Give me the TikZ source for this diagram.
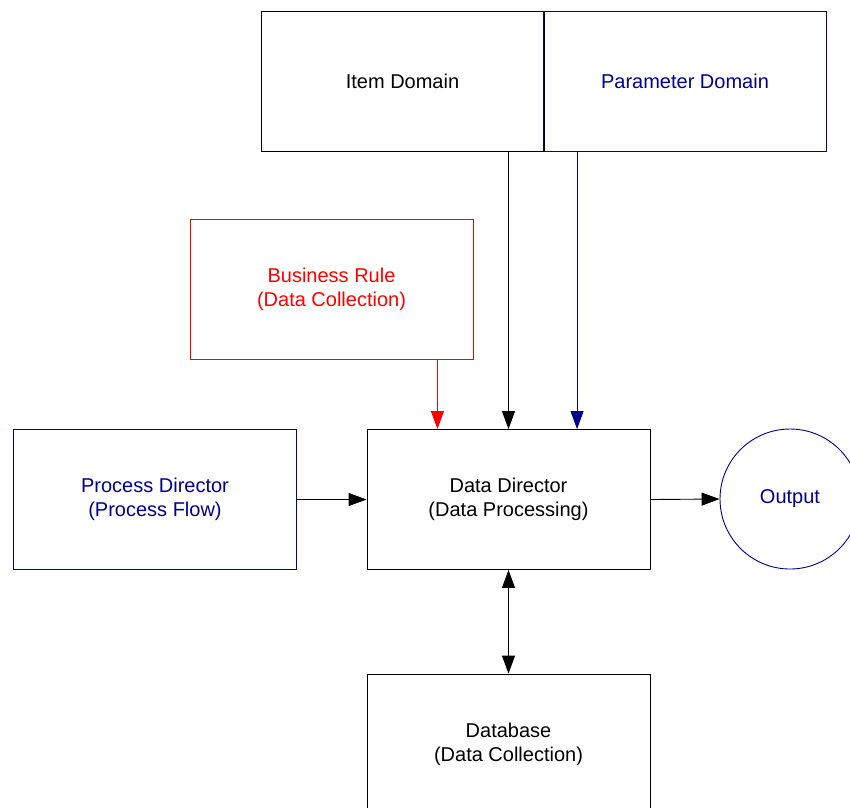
\documentclass[tikz,border=0pt]{standalone}
\usepackage{fontspec}
\setmainfont{Liberation Sans}
\usetikzlibrary{arrows.meta,calc}
\definecolor{navy}{RGB}{0,0,140}
\begin{document}
\begin{tikzpicture}[x=1pt,y=-1pt,
  box/.style={draw,line width=0.9pt,minimum width=283pt,minimum height=140pt,
    inner sep=0pt,align=center,font=\fontsize{20pt}{24pt}\selectfont},
  arr/.style={line width=0.9pt,-{Triangle[length=18pt,width=13pt]}},
  darr/.style={line width=0.9pt,{Triangle[length=18pt,width=13pt]}-{Triangle[length=18pt,width=13pt]}}]
  \useasboundingbox (0,0) rectangle (850,807);
  \clip (0,0) rectangle (850,807);
  % boxes
  \node[box,draw=navy,text=navy] (param) at (685,81) {Parameter Domain};
  \node[box] (item) at (402.5,81) {Item Domain};
  \node[box,draw=red,text=red] (rule) at (331.5,289.5) {Business Rule\\(Data Collection)};
  \node[box,draw=navy,text=navy] (proc) at (155,499.5) {Process Director\\(Process Flow)};
  \node[box] (dd) at (508.5,499.5) {Data Director\\(Data Processing)};
  \node[box] (db) at (508.5,744) {Database\\(Data Collection)};
  \node[circle,draw=navy,line width=0.9pt,minimum size=140pt,inner sep=0pt,
    text=navy,font=\fontsize{20pt}{24pt}\selectfont] (out) at (790,499) {Output};
  % connectors
  \coordinate (ruleout) at ([xshift=-36pt]rule.south east);
  \coordinate (paramout) at ([xshift=34pt]param.south west);
  \draw[arr,red] (ruleout) -- (ruleout |- dd.north);
  \draw[arr] (dd.north |- item.south) -- (dd.north);
  \draw[arr,navy] (paramout) -- (paramout |- dd.north);
  \draw[arr] (proc.east) -- (dd.west);
  \draw[arr] (dd.east) -- (out.west);
  \draw[darr] (dd.south) -- (db.north);
\end{tikzpicture}
\end{document}
